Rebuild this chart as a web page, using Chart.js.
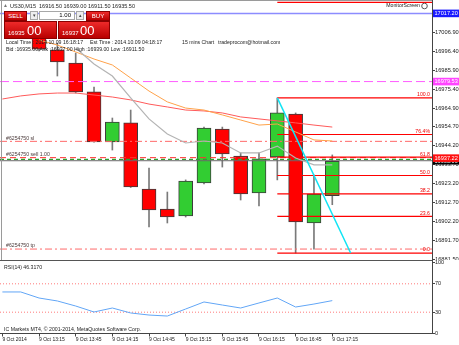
<!DOCTYPE html>
<html><head><meta charset="utf-8">
<script src="https://cdn.jsdelivr.net/npm/chart.js@4.4.1/dist/chart.umd.min.js"></script>
<style>
html,body{margin:0;padding:0;background:#fff;width:459px;height:345px;overflow:hidden;}
#wrap{position:relative;width:459px;height:345px;font-family:"Liberation Sans",Arial,sans-serif;}
canvas{position:absolute;left:0;}
#main{top:0;}
#rsi{top:258px;}
.p{position:absolute;box-sizing:border-box;color:#fff;white-space:nowrap;}
.red{background:linear-gradient(#ee2a2a,#b80000);border:1px solid #8a0000;}
.btn{font-size:6px;line-height:8px;text-align:center;}
.spin{background:#eeeeee;border:1px solid #a8a8a8;color:#444;font-size:5px;line-height:7px;text-align:center;}
.inp{background:#fff;border:1px solid #a8a8a8;color:#000;font-size:6px;line-height:7px;text-align:right;padding-right:3px;}
.s{position:absolute;font-size:6px;line-height:6px;}
.b{position:absolute;font-size:13px;line-height:13px;}
</style></head><body>
<div id="wrap">
<canvas id="main" width="459" height="260"></canvas>
<canvas id="rsi" width="459" height="87"></canvas>
<div class="p red btn" style="left:4px;top:11px;width:23px;height:10px;">SELL</div>
<div class="p spin" style="left:30px;top:11px;width:8px;height:9px;">&#9662;</div>
<div class="p inp" style="left:39px;top:11px;width:36px;height:9px;">1.00</div>
<div class="p spin" style="left:76px;top:11px;width:8px;height:9px;">&#9652;</div>
<div class="p red btn" style="left:86px;top:11px;width:24px;height:10px;">BUY</div>
<div class="p red" style="left:4px;top:21px;width:53px;height:18px;"><span class="s" style="left:3px;top:8px;">16935</span><span class="b" style="left:22px;top:2px;">00</span></div>
<div class="p red" style="left:58px;top:21px;width:52px;height:18px;"><span class="s" style="left:3px;top:8px;">16937</span><span class="b" style="left:21px;top:2px;">00</span></div>
</div>
<script>
const FONT = '"Liberation Sans", Arial, sans-serif';

// ---- data ----
const candleTimes = ['13:15','13:30','13:45','14:00','14:15','14:30','14:45','15:00','15:15','15:30','15:45','16:00','16:15','16:30','16:45','17:00','17:15'];
const opens  = [17006.0, 16997.0, 16989.8, 16973.8, 16946.2, 16956.7, 16920.2, 16909.1, 16905.3, 16923.5, 16953.3, 16938.4, 16918.0, 16937.9, 16961.6, 16901.4, 16916.5];
const highs  = [17008.0, 17000.8, 16995.3, 16976.5, 16959.4, 16963.8, 16931.8, 16918.5, 16925.2, 16954.4, 16954.4, 16940.1, 16940.1, 16970.5, 16962.2, 16927.9, 16939.0];
const lows   = [16996.5, 16982.6, 16973.2, 16946.0, 16941.7, 16921.0, 16899.2, 16901.4, 16904.7, 16923.0, 16932.3, 16914.1, 16910.8, 16925.2, 16884.8, 16887.0, 16911.5];
const closes = [16997.5, 16990.4, 16973.8, 16946.2, 16957.2, 16921.3, 16908.6, 16904.7, 16924.6, 16953.9, 16939.5, 16917.4, 16936.8, 16962.2, 16902.0, 16917.4, 16935.5];

const maRedStart = -2;
const maRed = [16969.9, 16971.6, 16972.7, 16973.2, 16973.2, 16972.1, 16971.0, 16969.4, 16967.1, 16965.5, 16963.8, 16963.3, 16962.2, 16960.0, 16958.9, 16957.8, 16956.7, 16955.5, 16954.4];
const maOrangeStart = 0;
const maOrange = [17002.5, 16999.7, 16995.9, 16992.0, 16988.7, 16981.5, 16974.3, 16968.3, 16964.9, 16963.8, 16961.1, 16958.3, 16955.5, 16956.1, 16951.7, 16947.3, 16946.7];
const maGreyStart = 2;
const maGrey = [16998.1, 16989.2, 16982.6, 16970.5, 16958.9, 16950.6, 16945.6, 16946.7, 16945.6, 16940.1, 16940.1, 16943.9, 16937.3, 16933.5, 16933.5];

const rsiStart = -2;
const rsi = [58.5, 58.5, 50.0, 45.8, 38.7, 30.3, 35.9, 28.9, 26.0, 24.6, 34.5, 44.4, 40.1, 35.9, 43.0, 50.0, 37.3, 41.5, 46.317];
const rsiLevels = [70, 30];

const yTicks = [17006.90, 16996.40, 16985.90, 16975.40, 16964.90, 16954.70, 16944.20, 16933.70, 16923.20, 16912.70, 16902.20, 16891.70, 16881.50];
const rsiTicks = [100, 70, 30, 0];
const xTickSlots = [-2, 0, 2, 4, 6, 8, 10, 12, 14, 16];
const xTickLabels = ['9 Oct 2014','9 Oct 13:15','9 Oct 13:45','9 Oct 14:15','9 Oct 14:45','9 Oct 15:15','9 Oct 15:45','9 Oct 16:15','9 Oct 16:45','9 Oct 17:15'];

const fibLabels = ['', '100.0', '76.4%', '61.8', '50.0', '38.2', '23.6', '0.0'];
const fibPrices = [17023.3, 16970.5, 16950.3, 16937.8, 16927.65, 16917.5, 16905.0, 16884.8];
const fibStartSlot = 13;
const trendSlots = [13, 17];
const trendPrices = [16970.5, 16884.8];

const levelPrices = [17017.20, 16979.53, 16946.5, 16937.5, 16936.6, 16935.8, 16887.0];
const levelLabels = ['', '', '#6254750 sl', '#6254750 sell 1.00', '', '', '#6254750 tp'];
const tagPrices = [17017.20, 16979.53, 16935.80, 16937.22];
const tagTexts = ['17017.20', '16979.53', '16935.00', '16937.22'];

// ---- axis ranges & styles ----
const X_MIN = -2.13, X_MAX = 21.44;
const Y_MIN = 16880.95, Y_MAX = 17024.6;
const levelStyles = [
  {color:'#8c8cff', dash:[], width:1.5},
  {color:'#ff5cff', dash:[9,4], width:1},
  {color:'#ff6a6a', dash:[7,3,2,3], width:1},
  {color:'#ff3030', dash:[6,4], width:1},
  {color:'#2f9f2f', dash:[4,3], width:1.2},
  {color:'#6a6a6a', dash:[], width:1},
  {color:'#ff6a6a', dash:[7,3,2,3], width:1}
];
const tagColors = ['#1a1aff', '#ff44ff', '#000000', '#ff1010'];

const idx = opens.map((_, i) => i);
const series = (start, arr) => arr.map((v, k) => ({x: start + k, y: v}));
const span = (v, from, to) => [{x: from, y: v}, {x: to, y: v}];
const line = (data, color, width, dash, order) => ({type:'line', data, borderColor:color, borderWidth:width, borderDash:dash||[], pointRadius:0, fill:false, tension:0, order});

const mainSets = [];
mainSets.push({type:'bar', data: idx.map(i => ({x:i, y:[lows[i], highs[i]]})), backgroundColor:'#7a7a7a',
  barThickness:1, maxBarThickness:1, barPercentage:1, categoryPercentage:1, grouped:false, order:20});
mainSets.push({type:'bar', data: idx.map(i => ({x:i, y:[opens[i], closes[i]]})),
  backgroundColor: idx.map(i => closes[i] >= opens[i] ? '#32cd32' : '#ff0000'),
  borderColor:'#3c3c3c', borderWidth:1, borderSkipped:false,
  barThickness:14, maxBarThickness:14, barPercentage:1, categoryPercentage:1, grouped:false, order:19});
levelPrices.forEach((p, k) => mainSets.push(line(span(p, X_MIN, X_MAX), levelStyles[k].color, levelStyles[k].width, levelStyles[k].dash, 8)));
fibPrices.forEach(p => mainSets.push(line(span(p, fibStartSlot, X_MAX), '#ff0000', 1.2, [], 6)));
mainSets.push(line(series(maRedStart, maRed), '#ff5a5a', 1, [], 5));
mainSets.push(line(series(maOrangeStart, maOrange), '#ffa24a', 1, [], 4));
mainSets.push(line(series(maGreyStart, maGrey), '#b4b4b4', 1.2, [], 3));
mainSets.push(line(trendSlots.map((s, k) => ({x:s, y:trendPrices[k]})), '#10e4f4', 1.5, [], 1));

const mainOverlay = {
  id:'mainOverlay',
  afterDraw(chart){
    const ctx = chart.ctx, ys = chart.scales.y;
    ctx.save();
    ctx.strokeStyle = '#9a9a9a'; ctx.lineWidth = 1;
    ctx.beginPath(); ctx.moveTo(1.5, 0); ctx.lineTo(1.5, 260); ctx.moveTo(0, 0.5); ctx.lineTo(432, 0.5); ctx.stroke();
    ctx.textBaseline = 'middle'; ctx.textAlign = 'left';
    ctx.fillStyle = '#777'; ctx.font = '5px ' + FONT; ctx.fillText('\u25B2', 3, 6);
    ctx.fillStyle = '#222'; ctx.font = '5.5px ' + FONT;
    const last = opens.length - 1;
    ctx.fillText('US30,M15  ' + opens[last].toFixed(2) + ' ' + highs[last].toFixed(2) + ' ' + lows[last].toFixed(2) + ' ' + closes[last].toFixed(2), 10, 6);
    ctx.font = '5.2px ' + FONT;
    ctx.fillText('Local Time : 2014.10.09 16:18:17', 6, 43);
    ctx.fillText('Est Time : 2014.10.09 04:18:17', 90, 43);
    ctx.fillText('15 mins Chart', 182, 43);
    ctx.fillText('tradeprocom@hotmail.com', 218, 43);
    ctx.fillText('Bid :16935.00 Ask :16937.00 High :16939.00 Low :16911.50', 6, 50);
    ctx.textAlign = 'right';
    ctx.fillText('MonitorScreen', 420, 6);
    ctx.strokeStyle = '#555'; ctx.beginPath(); ctx.arc(424.5, 6, 2.8, 0, Math.PI*2); ctx.stroke();
    // order labels
    ctx.textAlign = 'left'; ctx.fillStyle = '#4a3a3a';
    levelLabels.forEach((t, k) => { if (t) ctx.fillText(t, 6, ys.getPixelForValue(levelPrices[k]) - 3); });
    // fib labels
    ctx.textAlign = 'right'; ctx.fillStyle = '#ee0000';
    fibLabels.forEach((t, k) => { if (t) ctx.fillText(t, 430, ys.getPixelForValue(fibPrices[k]) - 3); });
    // price tags
    ctx.textAlign = 'left'; ctx.font = '5.6px ' + FONT;
    tagPrices.forEach((p, k) => {
      const y = ys.getPixelForValue(p);
      ctx.fillStyle = tagColors[k]; ctx.fillRect(433, y - 3.8, 26, 7.6);
      ctx.fillStyle = '#fff'; ctx.fillText(tagTexts[k], 434.5, y + 0.3);
    });
    ctx.restore();
  }
};

new Chart(document.getElementById('main'), {
  type:'line',
  data:{datasets: mainSets},
  options:{
    responsive:false, animation:false, devicePixelRatio:1, events:[],
    layout:{padding:0},
    plugins:{legend:{display:false}, tooltip:{enabled:false}},
    scales:{
      x:{type:'linear', display:false, min:X_MIN, max:X_MAX, offset:false},
      y:{type:'linear', position:'right', min:Y_MIN, max:Y_MAX,
        afterBuildTicks: s => { s.ticks = yTicks.map(v => ({value:v})); },
        afterFit: s => { s.width = 27; s.paddingTop = 0; s.paddingBottom = 0; },
        ticks:{autoSkip:false, padding:0, color:'#222', font:{family:FONT, size:5.7}, callback: v => Number(v).toFixed(2)},
        grid:{drawOnChartArea:false, drawTicks:true, tickLength:3, color:'#444'},
        border:{display:true, color:'#444', width:1}}
    }
  },
  plugins:[mainOverlay]
});

// ---- RSI ----
const rsiSets = [];
rsiLevels.forEach(l => rsiSets.push(line(span(l, X_MIN, X_MAX), '#ff7a7a', 1, [1,2], 3)));
rsiSets.push(line(series(rsiStart, rsi), '#62a6f6', 1, [], 1));

const rsiOverlay = {
  id:'rsiOverlay',
  afterDraw(chart){
    const ctx = chart.ctx;
    ctx.save();
    ctx.strokeStyle = '#555'; ctx.lineWidth = 1.2;
    ctx.beginPath(); ctx.moveTo(0, 2.5); ctx.lineTo(432, 2.5); ctx.stroke();
    ctx.strokeStyle = '#444'; ctx.lineWidth = 1;
    ctx.beginPath(); ctx.moveTo(432.5, 0); ctx.lineTo(432.5, 5); ctx.stroke();
    ctx.fillStyle = '#222'; ctx.font = '5.2px ' + FONT; ctx.textBaseline = 'middle'; ctx.textAlign = 'left';
    ctx.fillText('RSI(14) ' + rsi[rsi.length - 1].toFixed(4), 4, 10);
    ctx.fillText('IC Markets MT4, \u00A9 2001-2014, MetaQuotes Software Corp.', 4, 72);
    ctx.restore();
  }
};

new Chart(document.getElementById('rsi'), {
  type:'line',
  data:{datasets: rsiSets},
  options:{
    responsive:false, animation:false, devicePixelRatio:1, events:[],
    layout:{padding:{top:4.5, left:0, right:0, bottom:0}},
    plugins:{legend:{display:false}, tooltip:{enabled:false}},
    scales:{
      x:{type:'linear', position:'bottom', min:X_MIN, max:X_MAX, offset:false,
        afterBuildTicks: s => { s.ticks = xTickSlots.map(v => ({value:v})); },
        afterFit: s => { s.height = 11.5; s.paddingLeft = 0; s.paddingRight = 0; },
        ticks:{autoSkip:false, maxRotation:0, minRotation:0, align:'start', padding:0, color:'#222', font:{family:FONT, size:5}, callback:(v, i) => xTickLabels[i]},
        grid:{drawOnChartArea:false, drawTicks:true, tickLength:3, color:'#444', offset:false},
        border:{display:true, color:'#444', width:1}},
      y:{type:'linear', position:'right', min:0, max:100,
        afterBuildTicks: s => { s.ticks = rsiTicks.map(v => ({value:v})); },
        afterFit: s => { s.width = 27; s.paddingTop = 0; s.paddingBottom = 0; },
        ticks:{autoSkip:false, padding:0, color:'#222', font:{family:FONT, size:5.5}, callback: v => String(v)},
        grid:{drawOnChartArea:false, drawTicks:true, tickLength:3, color:'#444'},
        border:{display:true, color:'#444', width:1}}
    }
  },
  plugins:[rsiOverlay]
});
</script>
</body></html>
